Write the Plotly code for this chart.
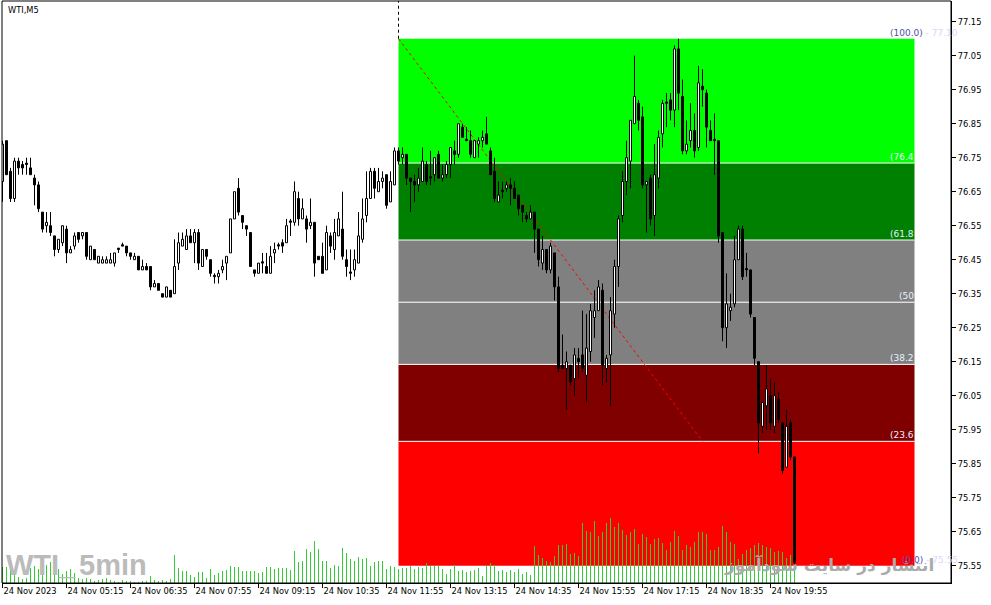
import plotly.graph_objects as go
import pandas as pd

# ---------------- data ----------------
open_ = [76.68,76.80,76.71,76.63,76.74,76.73,76.73,76.72,76.69,76.67,
76.59,76.55,76.55,76.52,76.48,76.50,76.54,76.47,76.49,76.53,
76.52,76.53,76.45,76.48,76.44,76.44,76.44,76.44,76.44,76.48,
76.49,76.49,76.47,76.45,76.46,76.42,76.43,76.43,76.37,76.38,
76.35,76.34,76.36,76.35,76.44,76.49,76.48,76.52,76.50,76.53,
76.43,76.48,76.45,76.40,76.40,76.42,76.44,76.47,76.57,76.66,
76.58,76.55,76.53,76.42,76.41,76.44,76.43,76.41,76.47,76.49,
76.50,76.50,76.56,76.56,76.63,76.57,76.57,76.55,76.56,76.46,
76.46,76.42,76.52,76.48,76.52,76.54,76.45,76.41,76.42,76.44,
76.51,76.58,76.63,76.71,76.65,76.68,76.70,76.62,76.67,76.77,
76.75,76.76,76.69,76.68,76.67,76.68,76.73,76.69,76.70,76.76,
76.69,76.70,76.73,76.77,76.76,76.84,76.80,76.80,76.75,76.79,
76.80,76.82,76.77,76.71,76.62,76.65,76.66,76.67,76.66,76.64,
76.61,76.58,76.57,76.59,76.54,76.44,76.48,76.42,76.47,76.37,
76.14,76.13,76.14,76.10,76.16,76.17,76.11,76.18,76.28,76.30,
76.36,76.13,76.17,76.29,76.43,76.58,76.68,76.74,76.85,76.91,
76.87,76.67,76.69,76.58,76.69,76.82,76.91,76.92,76.89,77.07,
76.93,76.77,76.80,76.83,76.78,76.96,76.94,76.83,76.80,76.80,
76.53,76.25,76.30,76.32,76.45,76.54,76.42,76.42,76.28,76.15,
75.96,76.02,76.05,75.96,76.04,75.97,75.84,75.97,75.87]

high_ = [76.80,76.80,76.72,76.75,76.75,76.74,76.75,76.75,76.70,76.68,
76.59,76.59,76.59,76.52,76.51,76.55,76.55,76.49,76.53,76.53,
76.53,76.53,76.49,76.48,76.46,76.46,76.46,76.47,76.47,76.48,
76.50,76.49,76.47,76.47,76.46,76.45,76.44,76.43,76.39,76.38,
76.35,76.37,76.36,76.51,76.53,76.53,76.54,76.54,76.54,76.54,
76.48,76.48,76.45,76.41,76.42,76.45,76.46,76.57,76.65,76.69,
76.58,76.55,76.53,76.42,76.44,76.47,76.47,76.49,76.50,76.50,
76.51,76.57,76.57,76.68,76.65,76.63,76.58,76.63,76.56,76.46,
76.50,76.55,76.53,76.57,76.59,76.65,76.48,76.48,76.48,76.59,
76.63,76.71,76.72,76.72,76.72,76.71,76.70,76.71,76.78,76.78,
76.78,76.76,76.69,76.70,76.72,76.78,76.74,76.77,76.75,76.77,
76.73,76.74,76.78,76.80,76.85,76.85,76.84,76.83,76.80,76.81,
76.83,76.87,76.78,76.75,76.68,76.68,76.68,76.69,76.68,76.64,
76.61,76.59,76.61,76.59,76.54,76.52,76.48,76.50,76.47,76.40,
76.23,76.18,76.14,76.19,76.19,76.30,76.29,76.32,76.36,76.39,
76.38,76.17,76.34,76.45,76.58,76.71,76.80,76.86,77.05,76.92,
76.90,76.68,76.70,76.79,76.83,76.92,76.94,76.94,77.08,77.10,
76.98,76.86,76.91,76.88,77.02,77.01,76.95,76.86,76.88,76.80,
76.53,76.41,76.35,76.52,76.55,76.55,76.47,76.42,76.28,76.15,
76.03,76.14,76.10,76.09,76.06,75.97,76.01,75.98,75.87]

low_ = [76.62,76.70,76.62,76.62,76.70,76.70,76.70,76.70,76.61,76.59,
76.53,76.53,76.52,76.46,76.47,76.49,76.44,76.47,76.48,76.50,
76.51,76.45,76.45,76.45,76.44,76.44,76.44,76.44,76.43,76.47,
76.49,76.46,76.45,76.45,76.42,76.42,76.42,76.36,76.37,76.36,
76.34,76.34,76.34,76.35,76.42,76.49,76.48,76.50,76.44,76.42,
76.43,76.45,76.40,76.38,76.38,76.41,76.39,76.47,76.57,76.58,
76.54,76.52,76.43,76.40,76.41,76.41,76.41,76.41,76.44,76.48,
76.47,76.50,76.52,76.55,76.55,76.57,76.50,76.54,76.40,76.45,
76.41,76.42,76.47,76.45,76.52,76.45,76.40,76.39,76.40,76.44,
76.50,76.56,76.63,76.63,76.65,76.66,76.60,76.62,76.67,76.73,
76.73,76.67,76.59,76.62,76.65,76.68,76.67,76.67,76.68,76.69,
76.68,76.69,76.69,76.73,76.75,76.81,76.80,76.75,76.75,76.75,
76.78,76.79,76.70,76.62,76.62,76.63,76.65,76.61,76.63,76.58,
76.56,76.56,76.57,76.47,76.43,76.42,76.41,76.41,76.33,76.12,
76.13,76.01,76.08,76.05,76.10,76.12,76.03,76.15,76.22,76.30,
76.08,76.09,76.02,76.25,76.37,76.56,76.64,76.66,76.85,76.83,
76.66,76.53,76.55,76.52,76.66,76.78,76.84,76.86,76.84,76.89,
76.76,76.76,76.78,76.75,76.77,76.90,76.78,76.80,76.70,76.50,
76.21,76.19,76.27,76.31,76.45,76.39,76.40,76.28,76.14,75.88,
75.94,75.95,75.95,75.94,75.97,75.82,75.84,75.86,75.55]

close_ = [76.79,76.70,76.63,76.74,76.72,76.72,76.73,76.70,76.67,76.60,
76.54,76.56,76.53,76.48,76.51,76.55,76.47,76.48,76.52,76.51,
76.53,76.46,76.49,76.45,76.46,76.45,76.45,76.45,76.47,76.48,
76.49,76.47,76.46,76.46,76.42,76.43,76.42,76.37,76.38,76.36,
76.34,76.37,76.34,76.43,76.50,76.51,76.52,76.50,76.53,76.44,
76.48,76.46,76.41,76.40,76.41,76.43,76.46,76.57,76.65,76.59,
76.56,76.54,76.43,76.41,76.44,76.44,76.41,76.46,76.48,76.49,
76.49,76.55,76.56,76.65,76.57,76.60,76.54,76.56,76.44,76.45,
76.41,76.53,76.49,76.53,76.57,76.46,76.43,76.41,76.45,76.52,
76.57,76.63,76.71,76.66,76.68,76.69,76.61,76.68,76.77,76.74,
76.76,76.69,76.68,76.67,76.69,76.74,76.68,76.69,76.75,76.69,
76.70,76.73,76.78,76.76,76.85,76.81,76.80,76.76,76.80,76.80,
76.81,76.79,76.70,76.63,76.64,76.65,76.67,76.66,76.63,76.60,
76.59,76.57,76.59,76.54,76.45,76.48,76.42,76.49,76.37,76.13,
76.13,76.15,76.09,76.17,76.15,76.13,76.19,76.30,76.30,76.37,
76.14,76.16,76.30,76.43,76.57,76.68,76.75,76.86,76.93,76.86,
76.67,76.68,76.57,76.70,76.81,76.91,76.91,76.89,77.07,76.94,
76.77,76.79,76.83,76.77,76.97,76.95,76.84,76.80,76.80,76.52,
76.25,76.32,76.31,76.45,76.54,76.40,76.42,76.29,76.16,75.97,
76.03,76.07,75.97,76.05,75.98,75.83,75.96,75.87,75.56]

volume = [16,16,18,11,6,4,5,15,17,14,19,18,21,19,14,9,12,14,10,5,
4,5,4,2,3,4,5,3,2,1,3,2,2,1,1,2,2,7,3,2,
3,2,4,28,15,12,12,8,6,11,11,5,14,8,10,12,13,17,16,16,
12,12,12,12,10,11,16,16,14,15,15,15,13,32,21,22,34,31,42,34,
22,22,15,18,17,35,30,24,22,26,24,25,17,21,22,22,14,17,16,14,
15,15,17,14,16,15,20,17,17,17,14,9,14,18,12,13,11,12,13,15,
7,17,20,18,12,13,11,13,11,14,9,11,8,37,28,25,22,21,27,38,
38,39,29,30,27,60,52,51,62,47,51,60,65,56,60,53,48,51,54,39,
49,46,39,44,45,40,33,41,52,47,33,38,36,41,51,51,49,33,33,36,
57,51,41,39,24,29,33,35,38,40,38,36,35,31,32,31,25,28,30]

times = pd.date_range("2023-11-24 03:55", periods=len(close_), freq="5min")
bar_idx = list(range(len(close_)))
time_tick_idx = [0, 16, 32, 48, 64, 80, 96, 112, 128, 144, 160, 176, 192]
time_tick_text = ["24 Nov 2023"] + ["24 Nov " + times[i].strftime("%H:%M") for i in time_tick_idx[1:]]
price_ticks = [75.55, 75.65, 75.75, 75.85, 75.95, 76.05, 76.15, 76.25, 76.35,
               76.45, 76.55, 76.65, 76.75, 76.85, 76.95, 77.05, 77.15]

fib_high = 77.10
fib_low = 75.55
fib_levels = [0.0, 23.6, 38.2, 50.0, 61.8, 76.4, 100.0]
fib_colors = ["#FF0000", "#800000", "#808080", "#808080", "#008000", "#00FF00"]
fib_start_idx = 99
fib_end_idx = 228
fib_line_end_idx = 175
fib_line_end_price = 75.916

# ---------------- figure ----------------
W, H = 991, 605
ML, MR, MT, MB = 2, 40, 1, 22
PW, PH = W - ML - MR, H - MT - MB
Y_TOP = 77.2109
Y_BOT = 75.4991
FONT = "DejaVu Sans"
MIN_BODY = 0.004


def px_x(px):
    return (px - ML) / PW


def px_y(py):
    return (H - MB - py) / PH


fig = go.Figure()

# volume
fig.add_trace(go.Bar(
    x=bar_idx, y=volume, yaxis="y", width=0.25,
    marker=dict(color="#32CD32", line=dict(width=0)),
    hoverinfo="skip"))

# candle wicks (upper and lower parts, drawn outside the bodies)
wx, wy = [], []
for i in bar_idx:
    top = max(open_[i], close_[i])
    bot = min(open_[i], close_[i])
    if high_[i] > top:
        wx += [i, i, None]
        wy += [high_[i], top, None]
    if low_[i] < bot:
        wx += [i, i, None]
        wy += [bot, low_[i], None]
fig.add_trace(go.Scatter(x=wx, y=wy, yaxis="y2", mode="lines",
                         line=dict(color="black", width=1), hoverinfo="skip",
                         connectgaps=False))

# candle bodies
body_base = [min(o, c) for o, c in zip(open_, close_)]
body_h = [max(abs(c - o), MIN_BODY) for o, c in zip(open_, close_)]
body_col = ["white" if c > o else "black" for o, c in zip(open_, close_)]
fig.add_trace(go.Bar(
    x=bar_idx, y=body_h, base=body_base, yaxis="y2", width=0.5,
    marker=dict(color=body_col, line=dict(color="black", width=1)),
    hoverinfo="skip"))


def fib_price(lv):
    return fib_low + (fib_high - fib_low) * lv / 100.0


shapes = []
for i in range(len(fib_levels) - 1):
    shapes.append(dict(type="rect", xref="x", yref="y2", layer="below",
                       x0=fib_start_idx, x1=fib_end_idx,
                       y0=fib_price(fib_levels[i]), y1=fib_price(fib_levels[i + 1]),
                       fillcolor=fib_colors[i], line=dict(width=0)))
for lv in fib_levels[1:-1]:
    shapes.append(dict(type="line", xref="x", yref="y2", layer="below",
                       x0=fib_start_idx, x1=fib_end_idx, y0=fib_price(lv), y1=fib_price(lv),
                       line=dict(color="white", width=1)))
shapes.append(dict(type="line", xref="x", yref="y2", layer="below",
                   x0=fib_start_idx, y0=fib_high, x1=fib_line_end_idx, y1=fib_line_end_price,
                   line=dict(color="#FF0000", width=1, dash="dot")))
shapes.append(dict(type="line", xref="x", yref="y2",
                   x0=fib_start_idx, x1=fib_start_idx, y0=fib_high, y1=Y_TOP,
                   line=dict(color="black", width=1, dash="dot")))
shapes.append(dict(type="rect", xref="paper", yref="paper", x0=0, x1=1, y0=0, y1=1,
                   line=dict(color="black", width=1), layer="above"))

annotations = []
for lv in fib_levels[1:-1]:
    txt = "(50" if lv == 50.0 else "(%.1f" % lv
    annotations.append(dict(x=fib_end_idx, y=fib_price(lv), xref="x", yref="y2",
                            text=txt, showarrow=False, xanchor="right", yanchor="bottom",
                            xshift=1, font=dict(family=FONT, size=9, color="#E6F2FF"), yshift=-1))
annotations.append(dict(x=px_x(888), y=fib_high, xref="paper", yref="y2",
                        text="<span style='color:#5050A0'>(100.0)</span><span style='color:#D8D8F4'> - 77.10</span>",
                        showarrow=False, xanchor="left", yanchor="bottom",
                        font=dict(family=FONT, size=9), yshift=-1))
annotations.append(dict(x=px_x(900), y=fib_low, xref="paper", yref="y2",
                        text="<span style='color:#5050C0'>(0.0)</span><span style='color:#D8D8F4'> - 75.55</span>",
                        showarrow=False, xanchor="left", yanchor="bottom",
                        font=dict(family=FONT, size=9), yshift=-1))
annotations.append(dict(x=px_x(6), y=px_y(10), xref="paper", yref="paper", text="WTI,M5",
                        showarrow=False, xanchor="left", yanchor="middle",
                        font=dict(family=FONT, size=8.3, color="black")))
wm_font = dict(family="Liberation Sans", size=29, color="#BBBBBB", weight="bold")
annotations.append(dict(x=px_x(4), y=px_y(565), xref="paper", yref="paper", text="WTI",
                        showarrow=False, xanchor="left", yanchor="middle", font=wm_font))
annotations.append(dict(x=px_x(56), y=px_y(565), xref="paper", yref="paper", text="_",
                        showarrow=False, xanchor="left", yanchor="middle", font=wm_font))
annotations.append(dict(x=px_x(77), y=px_y(565), xref="paper", yref="paper", text="5min",
                        showarrow=False, xanchor="left", yanchor="middle", font=wm_font))
annotations.append(dict(x=px_x(936), y=px_y(565), xref="paper", yref="paper",
                        text="انتشار در سایت سودآموز",
                        showarrow=False, xanchor="right", yanchor="middle",
                        font=dict(family=FONT, size=17, color="#ABABAB", weight="bold")))

fig.update_layout(
    width=W, height=H,
    margin=dict(l=ML, r=MR, t=MT, b=MB),
    paper_bgcolor="white", plot_bgcolor="white",
    showlegend=False,
    barmode="overlay",
    shapes=shapes, annotations=annotations,
    xaxis=dict(range=[-0.125, 237.125], showgrid=False, zeroline=False,
               showline=True, linecolor="black", linewidth=1,
               ticks="outside", ticklen=4, tickcolor="black", tickwidth=1,
               tickvals=time_tick_idx, ticktext=time_tick_text,
               ticklabelposition="outside right", tickangle=0, automargin=False,
               tickfont=dict(family=FONT, size=8.3, color="black"),
               fixedrange=True),
    yaxis=dict(range=[0, PH], visible=False, fixedrange=True, automargin=False),
    yaxis2=dict(range=[Y_BOT, Y_TOP], overlaying="y", side="right", anchor="x",
                showgrid=False, zeroline=False, showline=True, linecolor="black", linewidth=1,
                ticks="outside", ticklen=4, tickcolor="black", automargin=False,
                tickvals=price_ticks, ticktext=["%.2f" % v for v in price_ticks],
                tickfont=dict(family=FONT, size=8.3, color="black"), fixedrange=True),
)

fig.write_html("out.html", config={"displayModeBar": False},
               post_script="document.body.style.margin='0';document.body.style.overflow='hidden';")
